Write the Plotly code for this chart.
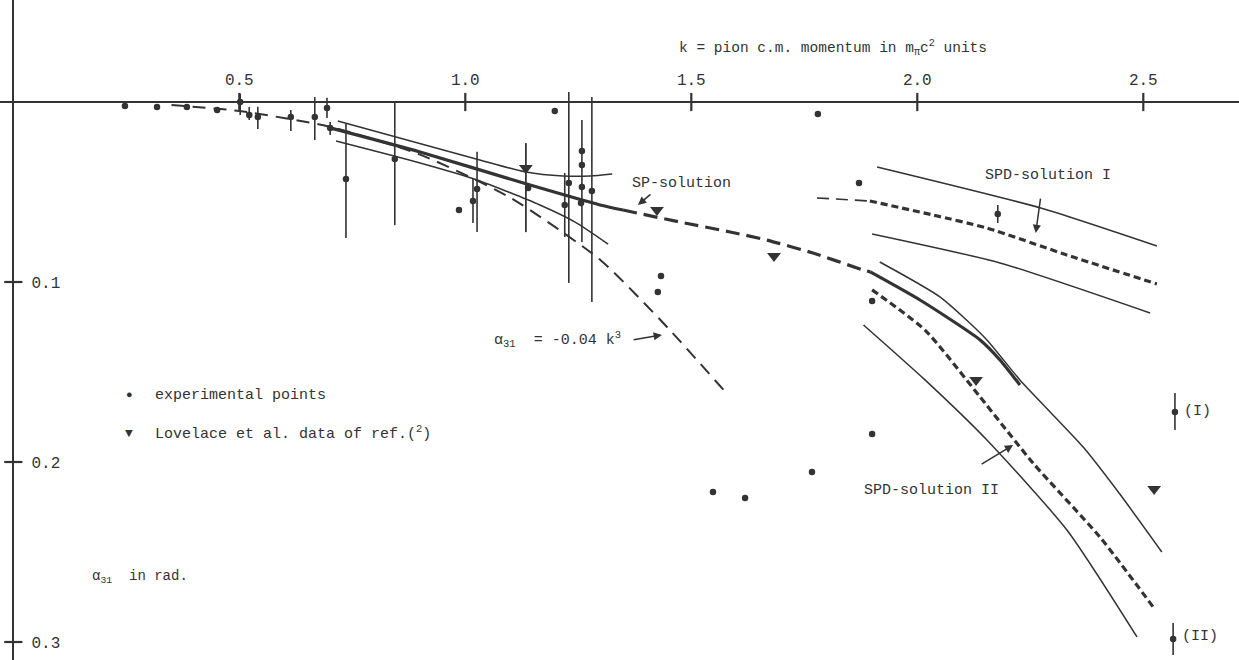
import plotly.graph_objects as go

INK = "#333333"
FONT = "Liberation Mono, Courier New, monospace"

# ---- axis ticks ----
x_ticks = [0.5, 1.0, 1.5, 2.0, 2.5]
x_tick_labels = ["0.5", "1.0", "1.5", "2.0", "2.5"]
y_ticks = [0.1, 0.2, 0.3]
y_tick_labels = ["0.1", "0.2", "0.3"]

# ---- experimental points: k, |alpha_31|, error toward zero, error away from zero ----
exp_k = [0.247, 0.318, 0.384, 0.451, 0.502, 0.522, 0.541, 0.614, 0.667, 0.694,
         0.701, 0.736, 0.844, 0.986, 1.026, 1.017, 1.139, 1.198, 1.229, 1.220,
         1.258, 1.258, 1.258, 1.256, 1.280, 1.433, 1.426, 1.548, 1.619, 1.767,
         1.780, 1.871, 1.900, 1.900, 2.178, 2.570, 2.566]
exp_a = [0.0022, 0.0028, 0.0028, 0.0044, 0.0000, 0.0072, 0.0083, 0.0083, 0.0083, 0.0033,
         0.0144, 0.0428, 0.0317, 0.0600, 0.0483, 0.0550, 0.0478, 0.0050, 0.0450, 0.0572,
         0.0272, 0.0350, 0.0472, 0.0561, 0.0494, 0.0967, 0.1056, 0.2167, 0.2200, 0.2056,
         0.0067, 0.0450, 0.1106, 0.1844, 0.0622, 0.1722, 0.2983]
exp_err_up = [0, 0, 0, 0, 0.0046, 0.0044, 0.0056, 0.0039, 0.0111, 0.0056,
              0.0033, 0.0311, 0.0317, 0, 0.0206, 0.0128, 0, 0, 0.0506, 0.0178,
              0, 0, 0.0372, 0, 0.0522, 0, 0, 0, 0, 0,
              0, 0, 0, 0, 0.0050, 0.0106, 0.0089]
exp_err_down = [0, 0, 0, 0, 0.0072, 0.0028, 0.0067, 0.0078, 0.0128, 0.0056,
                0.0039, 0.0328, 0.0367, 0, 0.0239, 0.0122, 0, 0, 0.0556, 0.0178,
                0, 0, 0.0306, 0, 0.0617, 0, 0, 0, 0, 0,
                0, 0, 0, 0, 0.0050, 0.0100, 0.0089]

# ---- Lovelace et al. ----
lov_k = [1.134, 1.424, 1.683, 2.130, 2.524]
lov_a = [0.0367, 0.0600, 0.0856, 0.1544, 0.2150]
lov_err_up = [0.0139, 0, 0, 0, 0]
lov_err_down = [0.0356, 0, 0, 0, 0]

# ---- alpha_31 = -0.04 k^3 ----
cubic_k = [0.35, 0.50, 0.70, 0.90, 1.10, 1.30, 1.45, 1.575]
cubic_a = [0.0017, 0.0050, 0.0137, 0.0292, 0.0532, 0.0880, 0.1260, 0.1610]

# ---- SP-solution ----
sp_solid_k = [0.701, 0.900, 1.136, 1.298, 1.349]
sp_solid_a = [0.0144, 0.0278, 0.0456, 0.0572, 0.0600]
sp_dash_k = [1.349, 1.475, 1.586, 1.667, 1.769, 1.880, 1.896]
sp_dash_a = [0.0600, 0.0667, 0.0722, 0.0767, 0.0839, 0.0933, 0.0944]
sp_tail_k = [1.896, 2.006, 2.139, 2.183, 2.227]
sp_tail_a = [0.0944, 0.1100, 0.1322, 0.1433, 0.1572]
sp_upper_k = [0.718, 1.032, 1.134, 1.216, 1.276, 1.325]
sp_upper_a = [0.0106, 0.0322, 0.0389, 0.0411, 0.0411, 0.0400]
sp_lower_k = [0.714, 0.900, 1.026, 1.165, 1.243, 1.316]
sp_lower_a = [0.0217, 0.0339, 0.0433, 0.0572, 0.0667, 0.0789]

# ---- SPD-solution I ----
spd1_lead_k = [1.778, 1.895]
spd1_lead_a = [0.0533, 0.0550]
spd1_k = [1.895, 2.035, 2.154, 2.331, 2.530]
spd1_a = [0.0550, 0.0628, 0.0700, 0.0850, 0.1011]
spd1_upper_k = [1.911, 2.273, 2.530]
spd1_upper_a = [0.0361, 0.0589, 0.0800]
spd1_lower_k = [1.900, 2.183, 2.515]
spd1_lower_a = [0.0733, 0.0894, 0.1172]

# ---- SPD-solution II ----
spd2_k = [1.900, 2.017, 2.139, 2.256, 2.404, 2.522]
spd2_a = [0.1044, 0.1267, 0.1639, 0.2006, 0.2417, 0.2806]
spd2_upper_k = [1.917, 2.050, 2.150, 2.227, 2.294, 2.367, 2.448, 2.541]
spd2_upper_a = [0.0889, 0.1083, 0.1311, 0.1544, 0.1722, 0.1917, 0.2178, 0.2500]
spd2_lower_k = [1.881, 2.017, 2.154, 2.331, 2.486]
spd2_lower_a = [0.1239, 0.1544, 0.1878, 0.2378, 0.2972]

fig = go.Figure()


def curve(k, a, width, dash="solid"):
    fig.add_trace(go.Scatter(x=k, y=a, mode="lines", hoverinfo="skip",
                             line=dict(color=INK, width=width, dash=dash,
                                       shape="spline", smoothing=0.6)))


curve(cubic_k, cubic_a, 2, "13px,8px")
curve(sp_solid_k, sp_solid_a, 3.2)
curve(sp_dash_k, sp_dash_a, 3.2, "14px,7px")
curve(sp_tail_k, sp_tail_a, 3.2)
curve(sp_upper_k, sp_upper_a, 1.5)
curve(sp_lower_k, sp_lower_a, 1.5)
curve(spd1_lead_k, spd1_lead_a, 1.6, "12px,7px")
curve(spd1_k, spd1_a, 3.2, "7px,4px")
curve(spd1_upper_k, spd1_upper_a, 1.5)
curve(spd1_lower_k, spd1_lower_a, 1.5)
curve(spd2_k, spd2_a, 3.2, "7px,4px")
curve(spd2_upper_k, spd2_upper_a, 1.5)
curve(spd2_lower_k, spd2_lower_a, 1.5)

fig.add_trace(go.Scatter(
    x=exp_k, y=exp_a, mode="markers", hoverinfo="skip",
    marker=dict(symbol="circle", size=6.5, color=INK),
    error_y=dict(type="data", symmetric=False, array=exp_err_down,
                 arrayminus=exp_err_up, width=0, thickness=1.6, color=INK)))

fig.add_trace(go.Scatter(
    x=lov_k, y=lov_a, mode="markers", hoverinfo="skip",
    marker=dict(symbol="triangle-down", size=12, color=INK),
    error_y=dict(type="data", symmetric=False, array=lov_err_down,
                 arrayminus=lov_err_up, width=0, thickness=1.8, color=INK)))

# tick marks crossing the axis lines
fig.add_trace(go.Scatter(x=x_ticks, y=[0] * len(x_ticks), mode="markers", hoverinfo="skip",
                         marker=dict(symbol="line-ns", size=13, line=dict(width=2.2, color=INK))))
fig.add_trace(go.Scatter(x=[0] * len(y_ticks), y=y_ticks, mode="markers", hoverinfo="skip",
                         marker=dict(symbol="line-ew", size=13, line=dict(width=2.2, color=INK))))

X0, X1 = -0.02942, 2.71173
Y_TOP, Y_BOT = -0.05667, 0.31


def text(x, y, s, size=15, anchor="left"):
    fig.add_annotation(x=x, y=y, text=s, showarrow=False, xanchor=anchor, yanchor="middle",
                       font=dict(family=FONT, size=size, color=INK))


def arrow(x0, y0, x1, y1):
    fig.add_annotation(x=x1, y=y1, ax=x0, ay=y0, axref="x", ayref="y", text="",
                       showarrow=True, arrowhead=2, arrowsize=1.1, arrowwidth=1.5,
                       arrowcolor=INK)


text(1.468, -0.0300, "k = pion c.m. momentum in m<sub>π</sub>c<sup>2</sup> units", 14.5)
text(1.364, 0.0450, "SP-solution")
arrow(1.413, 0.0506, 1.382, 0.0572)
text(2.145, 0.0406, "SPD-solution I")
arrow(2.273, 0.0528, 2.262, 0.0728)
text(1.878, 0.2156, "SPD-solution II")
arrow(2.139, 0.2017, 2.212, 0.1906)
text(1.059, 0.1322, "α<sub>31</sub>  = -0.04 k<sup>3</sup>")
arrow(1.369, 0.1322, 1.435, 0.1294)
text(0.256, 0.1628, "●", 11, "center")
text(0.309, 0.1628, "experimental points")
text(0.256, 0.1839, "▼", 13, "center")
text(0.309, 0.1839, "Lovelace et al. data of ref.(<sup>2</sup>)")
text(0.170, 0.2639, "α<sub>31</sub>  in rad.", 14)
text(2.586, 0.1717, "(I)")
text(2.582, 0.2972, "(II)")

fig.update_layout(
    width=1239, height=660,
    margin=dict(l=0, r=0, t=0, b=0),
    paper_bgcolor="white", plot_bgcolor="white",
    showlegend=False,
    xaxis=dict(range=[X0, X1], anchor="free", position=1 - 102 / 660, side="top",
               showline=True, linecolor=INK, linewidth=2, showgrid=False, zeroline=False,
               tickvals=x_ticks, ticktext=x_tick_labels, ticks="", ticklabelstandoff=10,
               tickfont=dict(family=FONT, size=16, color=INK)),
    yaxis=dict(range=[Y_BOT, Y_TOP], anchor="free", position=(0 - X0) / (X1 - X0), side="right",
               showline=True, linecolor=INK, linewidth=2, showgrid=False, zeroline=False,
               tickvals=y_ticks, ticktext=y_tick_labels, ticks="", ticklabelstandoff=14,
               tickfont=dict(family=FONT, size=16, color=INK)),
)

fig.write_html("out.html")
